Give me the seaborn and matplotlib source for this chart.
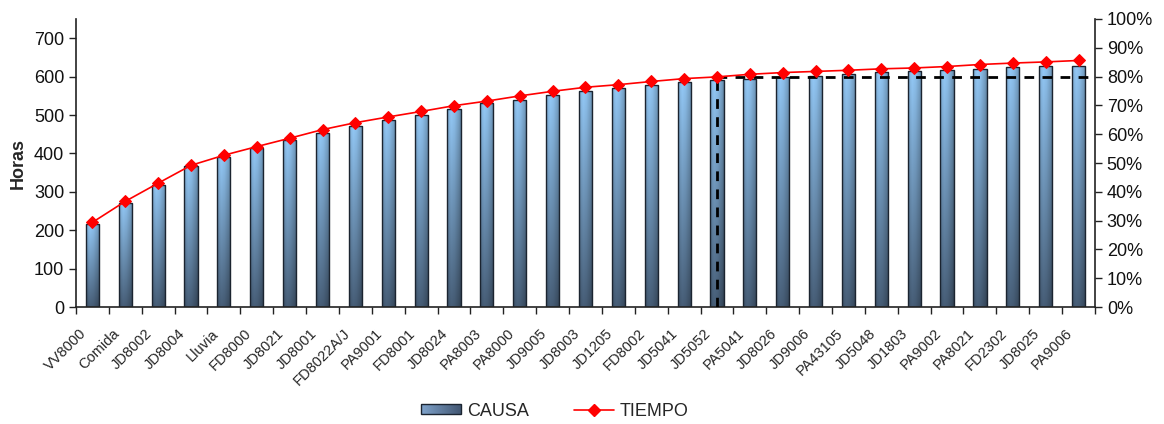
import numpy as np
import pandas as pd
import matplotlib
matplotlib.use("Agg")
import matplotlib.pyplot as plt
import matplotlib.transforms as mtransforms
import seaborn as sns
from matplotlib.lines import Line2D
from matplotlib.patches import Patch
from matplotlib.ticker import MultipleLocator, PercentFormatter

# Causes of lost time, ordered by contribution (Pareto)
causas = ["VV8000", "Comida", "JD8002", "JD8004", "Lluvia", "FD8000", "JD8021",
          "JD8001", "FD8022A/J", "PA9001", "FD8001", "JD8024", "PA8003", "PA8000",
          "JD9005", "JD8003", "JD1205", "FD8002", "JD5041", "JD5052", "PA5041",
          "JD8026", "JD9006", "PA43105", "JD5048", "JD1803", "PA9002", "PA8021",
          "FD2302", "JD8025", "PA9006"]
# Cumulative hours per cause
horas = [216, 272, 319, 366, 391, 415, 435, 454, 472, 486, 500, 516, 530, 540,
         552, 563, 571, 577, 585, 590, 595, 599, 602, 607, 611, 614, 617, 621,
         625, 628, 628]
# Cumulative share of total time
tiempo = [0.294, 0.367, 0.430, 0.492, 0.527, 0.557, 0.586, 0.616, 0.640, 0.660,
          0.679, 0.699, 0.715, 0.733, 0.749, 0.763, 0.772, 0.783, 0.793, 0.799,
          0.808, 0.814, 0.818, 0.822, 0.827, 0.830, 0.835, 0.842, 0.847, 0.851,
          0.856]
corte = "JD5052"
umbral = 0.80

sns.set_style("ticks")
plt.rcParams["font.family"] = ["Liberation Sans", "DejaVu Sans"]

df = pd.DataFrame({"causa": causas, "horas": horas, "tiempo": tiempo})
n = len(causas)

fig = plt.figure(figsize=(11.64, 4.24), dpi=100)
ax = fig.add_axes([0.0653, 0.2759, 0.8754, 0.6793])

sns.barplot(data=df, x="causa", y="horas", ax=ax, width=0.4, color="#7FA6CF",
            saturation=1, edgecolor="#1B2430", linewidth=1.0)

# Shaded fill for the bars: light top fading to dark slate, with a
# horizontal cylinder-like shading
top = np.array([0.58, 0.79, 0.97])
bot = np.array([0.28, 0.37, 0.47])
v = np.linspace(0, 1, 120)[:, None, None]
hpos = np.linspace(0, 1, 40)
shade = np.interp(hpos, [0.0, 0.08, 0.3, 0.55, 0.85, 1.0],
                  [0.72, 0.9, 1.0, 0.95, 0.8, 0.68])[None, :, None]
grad = np.clip((top * (1 - v) + bot * v) * shade, 0, 1)

for bar in list(ax.patches):
    x0, y0 = bar.get_x(), bar.get_y()
    w, h = bar.get_width(), bar.get_height()
    im = ax.imshow(grad, extent=[x0, x0 + w, y0, y0 + h], aspect="auto",
                   origin="upper", zorder=1, interpolation="bilinear")
    im.set_clip_path(bar)
    bar.set_facecolor("none")
    bar.set_zorder(1.5)

ax.set_xlim(-0.5, n - 0.5)
ax.set_ylim(0, 750)
ax.set_yticks(range(0, 701, 100))
ax.set_xlabel("")
ax.set_ylabel("Horas", fontsize=13, fontweight="bold", labelpad=5)

ax.tick_params(axis="y", labelsize=13, length=5, width=1, direction="out",
               color="#222222", labelcolor="#111111")
ax.tick_params(axis="x", which="major", length=0, labelsize=10.5, pad=14)
ax.set_xticks(np.arange(-0.5, n), minor=True)
ax.tick_params(axis="x", which="minor", length=5, width=1, direction="out",
               color="#222222")
offset = mtransforms.ScaledTranslation(-13 / 100, 0, fig.dpi_scale_trans)
for lbl in ax.get_xticklabels():
    lbl.set_rotation(45)
    lbl.set_ha("right")
    lbl.set_va("top")
    lbl.set_rotation_mode("anchor")
    lbl.set_transform(lbl.get_transform() + offset)

for side in ["left", "bottom"]:
    ax.spines[side].set_color("#222222")
    ax.spines[side].set_linewidth(1.2)
ax.spines["top"].set_visible(False)
ax.spines["right"].set_visible(False)

# Cumulative percentage on the secondary axis
ax2 = ax.twinx()
pos = np.arange(n)
sns.lineplot(x=pos, y=df["tiempo"], ax=ax2, color="#FF0000", linewidth=1.2,
             marker="D", markersize=6.5, markeredgecolor="#FF0000", zorder=4)
ax2.set_ylim(0, 1)
ax2.yaxis.set_major_locator(MultipleLocator(0.1))
ax2.yaxis.set_major_formatter(PercentFormatter(1.0, decimals=0))
ax2.tick_params(axis="y", labelsize=13, length=5, width=1, direction="out",
                color="#222222", labelcolor="#111111")
ax2.set_ylabel("")
ax2.spines["top"].set_visible(False)
ax2.spines["left"].set_visible(False)
ax2.spines["bottom"].set_visible(False)
ax2.spines["right"].set_color("#222222")
ax2.spines["right"].set_linewidth(1.2)

# 80 % cut-off guide
ic = causas.index(corte)
ax2.plot([ic, ic], [0, umbral], color="black", linewidth=2,
         linestyle=(0, (3.5, 3)), zorder=3)
ax2.plot([ic, n - 0.5], [umbral, umbral], color="black", linewidth=2,
         linestyle=(0, (3.5, 3)), zorder=3)
ax2.set_xlim(-0.5, n - 0.5)

handles = [
    Patch(facecolor="none", edgecolor="#1B2430", linewidth=1.0, label="CAUSA"),
    Line2D([], [], color="#FF0000", linewidth=1.2, marker="D", markersize=6.5,
           label="TIEMPO"),
]
leg = fig.legend(handles=handles, loc="center", ncol=2,
                 bbox_to_anchor=(555 / 1164, 1 - 411 / 424), frameon=False,
                 fontsize=13, handlelength=2.2, handleheight=0.5,
                 handletextpad=0.35, columnspacing=2.5)

# Shaded fill for the legend swatch
fig.canvas.draw()
sw = leg.legend_handles[0]
bb = sw.get_window_extent().transformed(fig.transFigure.inverted())
sax = fig.add_axes([bb.x0, bb.y0, bb.width, bb.height], zorder=-1)
hg = np.linspace(0, 1, 60)
lg = np.array([0.50, 0.64, 0.80])[None, :] * (1 - hg[:, None]) + \
     np.array([0.26, 0.34, 0.45])[None, :] * hg[:, None]
sax.imshow(lg[None, :, :], aspect="auto", interpolation="bilinear")
sax.set_axis_off()

fig.savefig("out.png", dpi=100)
